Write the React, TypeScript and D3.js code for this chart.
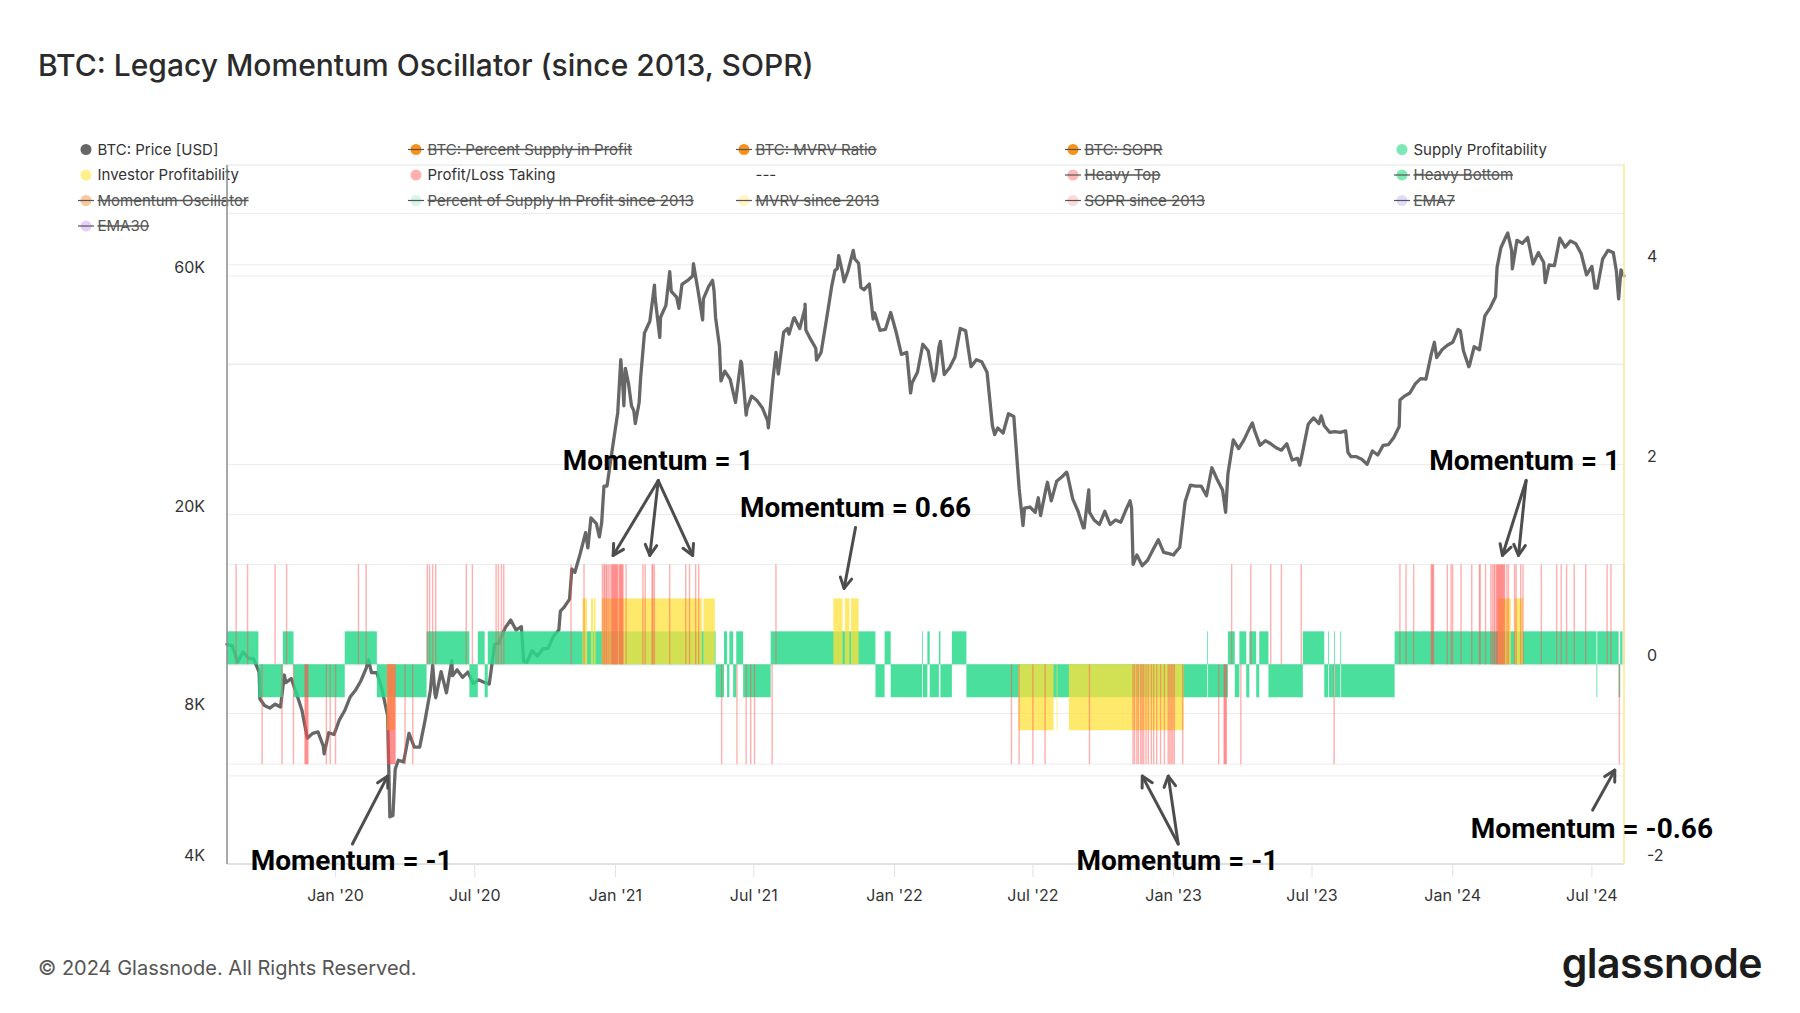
import React from "react";
import * as d3 from "d3";

const WIDTH = 1800;
const HEIGHT = 1013;

// ---------------- DATA ----------------
const TITLE = "BTC: Legacy Momentum Oscillator (since 2013, SOPR)";
const X_START = "2019-08-12";
const X_END = "2024-08-12";

// BTC price, weekly closes starting 2019-08-12
const PRICE_START = "2019-08-12";
const priceWeekly: number[] = [
  // 2019
  11000, 10920, 10140, 10620, 10320, 10270, 9680, 8300, 8200, 8350, 8240, 9220, 9400, 8760, 8120, 7140, 7300, 7350, 6880, 7320, 7260,
  // 2020
  7770, 8110, 8630, 8900, 9290, 9850, 9660, 9650, 8900, 7930, 5000, 6450, 6400, 7300, 6850, 6850, 7750, 8900, 8600, 9700, 8800,
  10200, 9780, 9450, 9680, 9190, 9340, 9240, 9160, 11000, 11220, 11880, 12300, 11750, 11930, 10130, 10680, 10420, 10770, 10800,
  11420, 11750, 13050, 13550, 15330, 16720, 18400, 19700, 19170, 19270, 22800, 27080,
  // 2021
  31970, 35500, 36630, 32260, 33500, 46200, 48700, 54000, 49600, 52400, 55900, 54400, 57700, 58700, 60000, 56100, 54000, 57200,
  55900, 43500, 38700, 37300, 33500, 40500, 31600, 34500, 33800, 32700, 30800, 37300, 38200, 46300, 45900, 49500, 47100, 51800,
  44900, 43000, 42200, 49100, 57400, 62000, 60900, 61300, 67500, 63600, 56300, 57800, 50600, 46700, 46900, 50700,
  // 2022
  46400, 41800, 42200, 36700, 38500, 43800, 42500, 37000, 43200, 38100, 39300, 41300, 47100, 46600, 39500, 40800, 40400, 38500,
  30100, 29800, 29100, 31800, 31400, 22500, 20600, 20700, 20200, 19900, 22500, 21300, 23300, 23800, 24100, 21500, 20300, 18800,
  22400, 19500, 19100, 20300, 19100, 19500, 19300, 20500, 20600, 16600, 15800, 16200, 17000, 17800, 16800, 16700,
  // 2023
  16700, 17200, 21200, 22900, 22800, 22800, 21800, 24800, 23500, 22400, 24100, 28200, 27100, 28200, 29700, 29400, 27500, 28100,
  27700, 27200, 26900, 27700, 25700, 25900, 26800, 30300, 31200, 30400, 30100, 29200, 29300, 29200, 29400, 26100, 26100, 25800,
  25200, 26800, 26300, 27500, 27600, 28500, 30000, 34500, 35000, 36500, 37400, 37300, 41900, 41200, 42700, 43600,
  // 2024
  44200, 46900, 42500, 39500, 43300, 42700, 49900, 51800, 54500, 68300, 72100, 67600, 70700, 69700, 71600, 63400, 66800, 63800,
  63100, 62900, 71400, 68500, 70500, 69600, 66500, 60300, 62700, 56700, 64800, 67500, 66800, 54000, 60000,
];

// Extra daily price readings at visible swings (merged with the weekly series)
const priceExtraDates: string[] = [
  "2019-09-24", "2019-10-26", "2019-12-17", "2020-02-13", "2020-03-12", "2020-03-19", "2020-05-07", "2020-05-10",
  "2020-06-02", "2020-08-02", "2020-09-03", "2020-10-21", "2020-11-05", "2020-11-26", "2020-12-11", "2020-12-17",
  "2021-01-08", "2021-01-12", "2021-01-14", "2021-01-22", "2021-01-27", "2021-02-03", "2021-02-09", "2021-02-21",
  "2021-02-28", "2021-03-13", "2021-03-25", "2021-04-13", "2021-04-25", "2021-05-08", "2021-05-12", "2021-05-19",
  "2021-06-15", "2021-06-22", "2021-07-20", "2021-07-30", "2021-08-14", "2021-08-22", "2021-09-06", "2021-09-07",
  "2021-09-21", "2021-10-15", "2021-10-20", "2021-10-27", "2021-11-10", "2021-11-18", "2021-12-04", "2022-01-22",
  "2022-02-24", "2022-03-02", "2022-05-12", "2022-06-18", "2022-07-08", "2022-07-20", "2022-08-14", "2022-09-06",
  "2022-09-13", "2022-11-05", "2022-11-09", "2023-01-01", "2023-03-10", "2023-04-14", "2023-06-15", "2023-07-13",
  "2023-08-17", "2023-10-24", "2023-12-08", "2024-01-11", "2024-01-23", "2024-02-28", "2024-03-13", "2024-03-19",
  "2024-05-01", "2024-07-05", "2024-08-02", "2024-08-08",
];
const priceExtraValues: number[] = [
  8560, 9550, 6640, 10240, 4970, 6190, 9990, 8750,
  9520, 11050, 10170, 12820, 15560, 17150, 18040, 22800,
  40800, 33000, 39200, 33000, 30400, 37600, 46500, 57500,
  45200, 61200, 51700, 63500, 49000, 58800, 49500, 37000,
  40200, 32500, 29800, 42200, 47100, 49300, 52700, 46800,
  40700, 61500, 65900, 58400, 64900, 56900, 49200, 35000,
  38300, 44400, 28900, 19000, 21600, 23200, 24300, 18800,
  20200, 21300, 15900, 16600, 20200, 30500, 25100, 31500,
  26600, 33900, 44200, 46600, 39800, 62400, 73100, 62000,
  58200, 56700, 61400, 61700,
];

// Supply Profitability (green): [start, end, sign]
const supplySegments: [string, string, number][] = [
  ["2019-08-12", "2019-09-22", 1], ["2019-09-22", "2019-10-24", -1], ["2019-10-24", "2019-11-07", 1],
  ["2019-11-07", "2020-01-13", -1], ["2020-01-13", "2020-02-24", 1], ["2020-02-24", "2020-04-29", -1],
  ["2020-04-29", "2020-06-24", 1], ["2020-06-24", "2020-07-05", -1], ["2020-07-05", "2020-07-14", 1],
  ["2020-07-14", "2020-07-18", -1], ["2020-07-18", "2021-05-12", 1], ["2021-05-12", "2021-05-23", -1],
  ["2021-05-23", "2021-05-27", 1], ["2021-05-27", "2021-05-30", -1], ["2021-05-30", "2021-06-04", 1],
  ["2021-06-04", "2021-06-08", -1], ["2021-06-08", "2021-06-17", 1], ["2021-06-17", "2021-07-23", -1],
  ["2021-07-23", "2021-12-07", 1], ["2021-12-07", "2021-12-19", -1], ["2021-12-19", "2021-12-27", 1],
  ["2021-12-27", "2022-02-06", -1], ["2022-02-06", "2022-02-07", 1], ["2022-02-07", "2022-02-13", -1],
  ["2022-02-13", "2022-02-16", 1], ["2022-02-16", "2022-02-28", -1], ["2022-02-28", "2022-03-02", 1],
  ["2022-03-02", "2022-03-17", -1], ["2022-03-17", "2022-04-05", 1], ["2022-04-05", "2023-02-14", -1],
  ["2023-02-14", "2023-02-15", 1], ["2023-02-15", "2023-03-13", -1], ["2023-03-13", "2023-03-22", 1],
  ["2023-03-22", "2023-03-28", -1], ["2023-03-28", "2023-04-06", 1], ["2023-04-06", "2023-04-10", -1],
  ["2023-04-10", "2023-04-19", 1], ["2023-04-19", "2023-04-23", -1], ["2023-04-23", "2023-05-05", 1],
  ["2023-05-05", "2023-06-19", -1], ["2023-06-19", "2023-07-17", 1], ["2023-07-17", "2023-07-22", -1],
  ["2023-07-22", "2023-07-23", 1], ["2023-07-23", "2023-07-30", -1], ["2023-07-30", "2023-07-31", 1],
  ["2023-07-31", "2023-08-07", -1], ["2023-08-07", "2023-08-08", 1], ["2023-08-08", "2023-10-17", -1],
  ["2023-10-17", "2024-07-07", 1], ["2024-07-07", "2024-07-08", -1], ["2024-07-08", "2024-08-05", 1],
  ["2024-08-05", "2024-08-07", -1], ["2024-08-07", "2024-08-10", 1],
];

// Investor Profitability (yellow): [start, end, sign]
const investorSegments: [string, string, number][] = [
  ["2020-03-08", "2020-03-19", -1], ["2020-11-19", "2020-11-25", 1], ["2020-11-30", "2020-12-03", 1],
  ["2020-12-04", "2020-12-06", 1], ["2020-12-14", "2021-04-24", 1], ["2021-04-26", "2021-05-11", 1],
  ["2021-10-13", "2021-10-25", 1], ["2021-10-28", "2021-11-03", 1], ["2021-11-05", "2021-11-15", 1],
  ["2022-06-12", "2022-07-28", -1], ["2022-08-01", "2022-08-02", -1], ["2022-08-17", "2023-01-14", -1],
  ["2024-02-29", "2024-03-17", 1], ["2024-03-22", "2024-04-02", 1],
];

// Profit/Loss Taking (red): days with +1 and -1
const takingUpDays: string[] = [
  "2019-08-23", "2019-09-07", "2019-10-13", "2019-10-28",
  "2020-01-30", "2020-02-09", "2020-04-29", "2020-05-02", "2020-05-06", "2020-05-10", "2020-06-19", "2020-06-27",
  "2020-07-28", "2020-07-31", "2020-08-04", "2020-08-07", "2020-11-03", "2020-11-20",
  "2020-12-14", "2020-12-16", "2020-12-17", "2020-12-19", "2020-12-20", "2020-12-22", "2020-12-24", "2020-12-26",
  "2020-12-27", "2020-12-28", "2020-12-29", "2020-12-30", "2020-12-31",
  "2021-01-01", "2021-01-02", "2021-01-03", "2021-01-05", "2021-01-06", "2021-01-07", "2021-01-08", "2021-01-09",
  "2021-01-10", "2021-01-14", "2021-02-05", "2021-02-08", "2021-02-17", "2021-02-18", "2021-02-20", "2021-03-12",
  "2021-04-02", "2021-04-07", "2021-04-15", "2021-04-19", "2021-07-29",
  "2023-03-17", "2023-04-11", "2023-05-07", "2023-05-21", "2023-06-16", "2023-10-23", "2023-10-31", "2023-11-10",
  "2023-12-03", "2023-12-04", "2023-12-05", "2023-12-06", "2023-12-24", "2023-12-29", "2023-12-31",
  "2024-01-11", "2024-01-25", "2024-02-04", "2024-02-05", "2024-02-12", "2024-02-19", "2024-02-21", "2024-02-23",
  "2024-02-24", "2024-02-26", "2024-02-27", "2024-02-28", "2024-02-29", "2024-03-01", "2024-03-02", "2024-03-03",
  "2024-03-04", "2024-03-05", "2024-03-06", "2024-03-07", "2024-03-08", "2024-03-11", "2024-03-13", "2024-03-21",
  "2024-03-23", "2024-03-29", "2024-04-01", "2024-04-25", "2024-05-15", "2024-05-21", "2024-05-28", "2024-06-07",
  "2024-06-22", "2024-07-20", "2024-07-25", "2024-08-11",
];
const takingDownDays: string[] = [
  "2019-09-26", "2019-10-22", "2019-11-06", "2019-11-21", "2019-11-22", "2019-11-23", "2019-11-24", "2019-11-25",
  "2019-12-19", "2019-12-24", "2019-12-31",
  "2020-03-08", "2020-03-09", "2020-03-10", "2020-03-11", "2020-03-12", "2020-03-13", "2020-03-14", "2020-03-15",
  "2020-03-16", "2020-03-17", "2020-03-18", "2020-03-31", "2020-04-10",
  "2021-05-19", "2021-06-08", "2021-06-20", "2021-06-26", "2021-07-01", "2021-07-24",
  "2022-06-02", "2022-06-12", "2022-06-30", "2022-07-16", "2022-09-12", "2022-11-08", "2022-11-10", "2022-11-13",
  "2022-11-15", "2022-11-18", "2022-11-20", "2022-11-22", "2022-11-25", "2022-11-28", "2022-12-02", "2022-12-05",
  "2022-12-09", "2022-12-14", "2022-12-19", "2022-12-24", "2022-12-26", "2022-12-28", "2022-12-30",
  "2023-01-01", "2023-01-12", "2023-02-28", "2023-03-07", "2023-03-08", "2023-03-09", "2023-03-10", "2023-03-29",
  "2023-07-29", "2024-08-05",
];

const SUPPLY_LEVEL = 0.33;
const INVESTOR_LEVEL = 0.66;
const TAKING_LEVEL = 1;

const leftTickValues = [4000, 8000, 20000, 60000];
const leftGridValues = [4000, 6000, 8000, 10000, 20000, 40000, 60000, 80000, 100000];
const rightTickValues = [-2, 0, 2, 4];
const rightGridValues = [-2, -1, 0, 1, 2, 3, 4, 5];

const legendItems: [string, string | null, boolean][] = [
  ["BTC: Price [USD]", "#666666", false],
  ["BTC: Percent Supply in Profit", "#f7931a", true],
  ["BTC: MVRV Ratio", "#f7931a", true],
  ["BTC: SOPR", "#f7931a", true],
  ["Supply Profitability", "#7be8b5", false],
  ["Investor Profitability", "#fff08c", false],
  ["Profit/Loss Taking", "#ffb0b0", false],
  ["---", null, false],
  ["Heavy Top", "#ffb8b8", true],
  ["Heavy Bottom", "#7ee8b6", true],
  ["Momentum Oscillator", "#f9c99c", true],
  ["Percent of Supply In Profit since 2013", "#d6f6e9", true],
  ["MVRV since 2013", "#fff4c2", true],
  ["SOPR since 2013", "#fddada", true],
  ["EMA7", "#dedcfa", true],
  ["EMA30", "#e6d0fa", true],
];

type Ann = { text: string; at: [string, number]; tail: [string, number]; tips: [string, number][] };
const annotations: Ann[] = [
  { text: "Momentum = 1", at: ["2021-02-26", 1.95], tail: ["2021-02-26", 1.84],
    tips: [["2020-12-29", 1.09], ["2021-02-15", 1.09], ["2021-04-12", 1.09]] },
  { text: "Momentum = 0.66", at: ["2021-11-11", 1.47], tail: ["2021-11-11", 1.37], tips: [["2021-10-27", 0.76]] },
  { text: "Momentum = 1", at: ["2024-04-04", 1.95], tail: ["2024-04-06", 1.84],
    tips: [["2024-03-06", 1.09], ["2024-03-27", 1.09]] },
  { text: "Momentum = -1", at: ["2020-01-22", -2.06], tail: ["2020-01-23", -1.8], tips: [["2020-03-09", -1.12]] },
  { text: "Momentum = -1", at: ["2023-01-06", -2.06], tail: ["2023-01-07", -1.8],
    tips: [["2022-11-21", -1.12], ["2022-12-25", -1.12]] },
  { text: "Momentum = -0.66", at: ["2024-07-01", -1.74], tail: ["2024-07-02", -1.46], tips: [["2024-07-31", -1.06]] },
];

// ---------------- CHART ----------------
const parse = d3.utcParse("%Y-%m-%d");
const P = (s: string) => parse(s) as Date;

export default function App() {
  const plot = { left: 227, right: 1624, top: 165, bottom: 864 };
  const x = d3.scaleUtc().domain([P(X_START), P(X_END)]).range([plot.left, plot.right]);
  const yL = d3.scaleLog().domain([4000, 100000]).range([plot.bottom, plot.top]);
  const yR = d3.scaleLinear().domain([-2, 5]).range([plot.bottom, plot.top]);

  const start = P(PRICE_START);
  const pricePts: [Date, number][] = priceWeekly.map((v, i) => [d3.utcDay.offset(start, 7 * i), v] as [Date, number]);
  priceExtraDates.forEach((d, i) => pricePts.push([P(d), priceExtraValues[i]]));
  pricePts.sort((a, b) => a[0].getTime() - b[0].getTime());
  const linePath = d3.line<[Date, number]>().x((d) => x(d[0])).y((d) => yL(d[1]))(pricePts) || "";

  const y0 = yR(0);
  const segRect = (s: [string, string, number], level: number) => {
    const xa = x(P(s[0]));
    const xb = x(P(s[1]));
    const yv = yR(s[2] * level);
    return { x: xa, w: xb - xa, y: Math.min(yv, y0), h: Math.abs(yv - y0) };
  };

  const xTicks = x.ticks(d3.utcMonth.every(6) as any);
  const fmt = d3.utcFormat("%b '%y");

  const legendCols = [86, 416, 744, 1073, 1402];
  const legendRows = [149.5, 175, 200.5, 226];

  const fontUI = "Inter, 'Noto Sans', sans-serif";

  const arrowHead = (tx: number, ty: number, fx: number, fy: number) => {
    const ang = Math.atan2(ty - fy, tx - fx);
    const L = 12;
    const a1 = ang + Math.PI - 0.5;
    const a2 = ang + Math.PI + 0.5;
    return `M${tx + L * Math.cos(a1)},${ty + L * Math.sin(a1)}L${tx},${ty}L${tx + L * Math.cos(a2)},${ty + L * Math.sin(a2)}`;
  };

  return (
    <div style={{ position: "absolute", left: 0, top: 0, width: WIDTH, height: HEIGHT }}>
      <svg width={WIDTH} height={HEIGHT} viewBox={`0 0 ${WIDTH} ${HEIGHT}`} style={{ display: "block" }}>
        <rect x={0} y={0} width={WIDTH} height={HEIGHT} fill="#ffffff" />
        <text x={38} y={76} fontFamily={fontUI} fontSize={30} fontWeight={500} fill="#2b2b2b">{TITLE}</text>

        {/* legend */}
        {legendItems.map((it, i) => {
          const cx = legendCols[i % 5];
          const cy = legendRows[Math.floor(i / 5)];
          const [label, color, hidden] = it;
          return (
            <g key={"lg" + i}>
              {color && <circle cx={cx} cy={cy} r={5.5} fill={color} />}
              {hidden && <line x1={cx - 8} x2={cx + 8} y1={cy} y2={cy} stroke="#555" strokeWidth={1.2} />}
              <text x={cx + 11.5} y={cy + 5} fontFamily={fontUI} fontSize={15} fill={hidden ? "#555" : "#333"}
                style={hidden ? { textDecoration: "line-through" } : undefined}>{label}</text>
            </g>
          );
        })}

        {/* grid */}
        {leftGridValues.map((v) => (
          <line key={"gl" + v} x1={plot.left} x2={plot.right} y1={yL(v)} y2={yL(v)} stroke="#ececec" strokeWidth={1} />
        ))}
        {rightGridValues.map((v) => (
          <line key={"gr" + v} x1={plot.left} x2={plot.right} y1={yR(v)} y2={yR(v)} stroke="#ececec" strokeWidth={1} />
        ))}

        {/* price */}
        <path d={linePath} fill="none" stroke="#676767" strokeWidth={3.3} strokeLinejoin="round" strokeLinecap="round" />

        {/* supply profitability */}
        {supplySegments.map((s, i) => {
          const r = segRect(s, SUPPLY_LEVEL);
          return <rect key={"sp" + i} x={r.x} y={r.y} width={r.w} height={r.h} fill="#2bd98c" fillOpacity={0.85} />;
        })}
        {/* investor profitability */}
        {investorSegments.map((s, i) => {
          const r = segRect(s, INVESTOR_LEVEL);
          return <rect key={"iv" + i} x={r.x} y={r.y} width={r.w} height={r.h} fill="#ffe13c" fillOpacity={0.75} />;
        })}
        {/* profit/loss taking */}
        {takingUpDays.map((d, i) => {
          const xa = x(P(d));
          const yv = yR(TAKING_LEVEL);
          return <rect key={"tu" + i} x={xa} y={yv} width={1.4} height={y0 - yv} fill="#ff5050" fillOpacity={0.45} />;
        })}
        {takingDownDays.map((d, i) => {
          const xa = x(P(d));
          const yv = yR(-TAKING_LEVEL);
          return <rect key={"td" + i} x={xa} y={y0} width={1.4} height={yv - y0} fill="#ff5050" fillOpacity={0.45} />;
        })}

        {/* axes */}
        <line x1={plot.left} x2={plot.right} y1={plot.bottom} y2={plot.bottom} stroke="#dddddd" strokeWidth={1.5} />
        <line x1={plot.left} x2={plot.left} y1={plot.top} y2={plot.bottom} stroke="#8c8c8c" strokeWidth={1.5} />
        <line x1={plot.right} x2={plot.right} y1={plot.top - 1} y2={plot.bottom} stroke="#fde98f" strokeWidth={1.5} />
        {xTicks.map((t, i) => (
          <g key={"xt" + i}>
            <line x1={x(t)} x2={x(t)} y1={plot.bottom} y2={plot.bottom + 13} stroke="#e3e3e3" strokeWidth={1} />
            <text x={x(t)} y={901} textAnchor="middle" fontFamily={fontUI} fontSize={16} fill="#333">{fmt(t)}</text>
          </g>
        ))}
        {leftTickValues.map((v) => (
          <text key={"yl" + v} x={205} y={yL(v) - 3} textAnchor="end" fontFamily={fontUI} fontSize={16} fill="#333">
            {d3.format("~s")(v).replace("k", "K")}
          </text>
        ))}
        {rightTickValues.map((v) => (
          <text key={"yr" + v} x={1647} y={yR(v) - 3} textAnchor="start" fontFamily={fontUI} fontSize={16} fill="#333">
            {v}
          </text>
        ))}

        {/* annotations */}
        {annotations.map((a, i) => {
          const tx = x(P(a.tail[0]));
          const ty = yR(a.tail[1]);
          return (
            <g key={"an" + i}>
              {a.tips.map((tp, j) => {
                const px = x(P(tp[0]));
                const py = yR(tp[1]);
                return (
                  <g key={j}>
                    <line x1={tx} y1={ty} x2={px} y2={py} stroke="#4d4d4d" strokeWidth={3} strokeLinecap="round" />
                    <path d={arrowHead(px, py, tx, ty)} fill="none" stroke="#4d4d4d" strokeWidth={3}
                      strokeLinecap="round" strokeLinejoin="round" />
                  </g>
                );
              })}
              <text x={x(P(a.at[0]))} y={yR(a.at[1])} textAnchor="middle" fontFamily="Roboto, 'Liberation Sans', sans-serif"
                fontWeight={700} fontSize={28} fill="#000">{a.text}</text>
            </g>
          );
        })}

        {/* footer */}
        <text x={38} y={975} fontFamily={fontUI} fontSize={20} fill="#555">© 2024 Glassnode. All Rights Reserved.</text>
        <text x={1762} y={978} textAnchor="end" fontFamily={fontUI} fontSize={41} fontWeight={600} fill="#1c1c1c"
          letterSpacing={-0.5}>glassnode</text>
      </svg>
    </div>
  );
}
